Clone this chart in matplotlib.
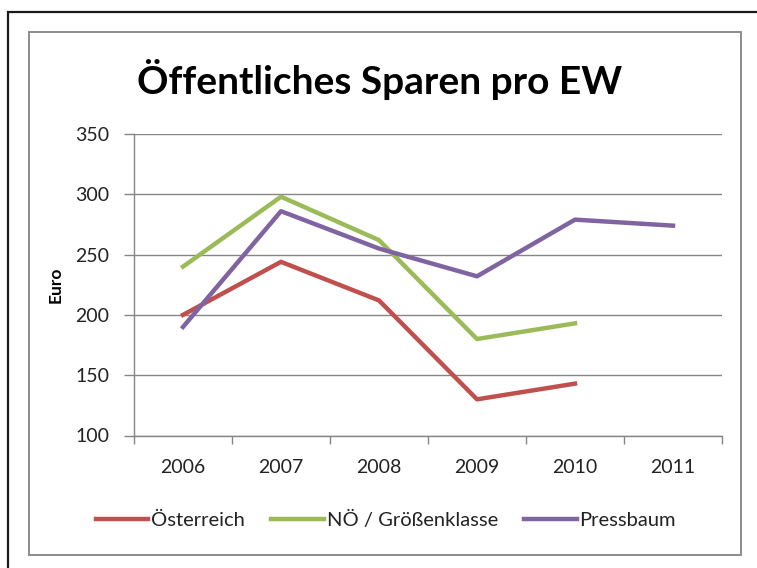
import matplotlib
matplotlib.use('Agg')
import matplotlib.pyplot as plt
from matplotlib.patches import Rectangle
import numpy as np

plt.rcParams['font.family'] = ['Lato', 'DejaVu Sans']

# Data
jahre = ['2006', '2007', '2008', '2009', '2010', '2011']
oesterreich = [200, 244, 212, 130, 143]
noe_groessenklasse = [240, 298, 262, 180, 193]
pressbaum = [190, 286, 255, 232, 279, 274]
y_ticks = [100, 150, 200, 250, 300, 350]

W, H = 757, 568
fig = plt.figure(figsize=(W / 100, H / 100), dpi=100)

# outer black frame (runs off the right/bottom edge) and inner gray chart frame
fig.patches.append(Rectangle((8 / W, -0.05), 1.1, 1 - 12 / H + 0.05,
                             transform=fig.transFigure, fill=False,
                             edgecolor='#1a1a1a', linewidth=1.6))
fig.patches.append(Rectangle((29 / W, 1 - 555 / H), (741 - 29) / W, (555 - 32) / H,
                             transform=fig.transFigure, fill=False,
                             edgecolor='#8c8c8c', linewidth=1.4))

ax = fig.add_axes([134 / W, 1 - 435.5 / H, (722 - 134) / W, (435.5 - 134) / H])

x = np.arange(len(jahre))
ax.plot(x[:len(oesterreich)], oesterreich, color='#C0504D', linewidth=3.2, label='Österreich')
ax.plot(x[:len(noe_groessenklasse)], noe_groessenklasse, color='#9BBB59', linewidth=3.2, label='NÖ / Größenklasse')
ax.plot(x[:len(pressbaum)], pressbaum, color='#8064A2', linewidth=3.2, label='Pressbaum')

ax.set_xlim(-0.5, len(jahre) - 0.5)
ax.set_ylim(100, 350)
ax.set_yticks(y_ticks)
ax.set_xticks(x)
ax.set_xticklabels(jahre)
ax.set_xticks(np.arange(-0.5, len(jahre)), minor=True)
ax.tick_params(axis='x', which='major', length=0, pad=17, labelsize=14, labelcolor='#222222')
ax.tick_params(axis='x', which='minor', length=6, color='#868686', width=1, direction='out')
ax.tick_params(axis='y', length=7, color='#868686', width=1, pad=11, labelsize=14, labelcolor='#222222')

ax.grid(True, axis='y', color='#868686', linewidth=1)
ax.set_axisbelow(True)
for side in ['top', 'right']:
    ax.spines[side].set_visible(False)
for side in ['left', 'bottom']:
    ax.spines[side].set_color('#868686')
    ax.spines[side].set_linewidth(1)

# label anchor is the right edge of the rotated text
ax.set_ylabel('Euro', fontsize=12.5, fontweight='bold')
ax.yaxis.set_label_coords(64 / W, 1 - 285 / H, transform=fig.transFigure)

fig.text(380 / W, 1 - 79 / H, 'Öffentliches Sparen pro EW', ha='center', va='center',
         fontsize=28, fontweight='bold')

fig.legend(loc='center', bbox_to_anchor=(386 / W, 1 - 520 / H), ncol=3, frameon=False,
           fontsize=14.5, handlelength=2.6, handletextpad=0.15, columnspacing=1.3,
           labelcolor='#222222')

fig.savefig('out.png', dpi=100)
